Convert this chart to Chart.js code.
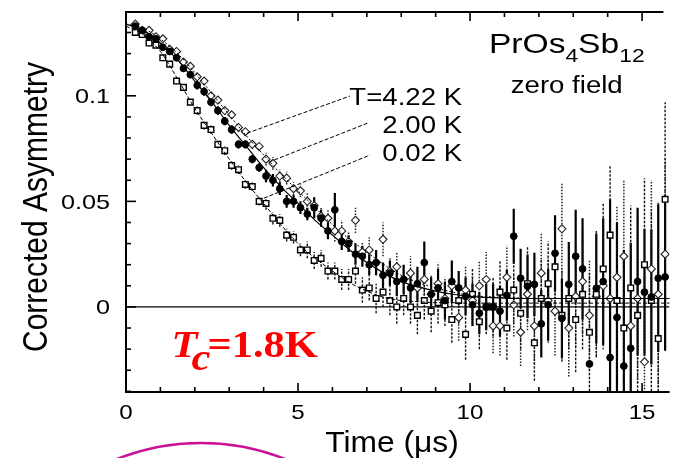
<!DOCTYPE html>
<html>
<head>
<meta charset="utf-8">
<script src="https://cdn.jsdelivr.net/npm/chart.js@4.4.1/dist/chart.umd.min.js"></script>
<style>
  html, body { margin: 0; padding: 0; background: #fff; }
</style>
</head>
<body>
<canvas id="chart" width="675" height="458"></canvas>
<script>
// time bins (µs), shared by the three temperatures
const times = [
  0.27, 0.47, 0.67, 0.87, 1.07, 1.27, 1.47, 1.67, 1.87, 2.07,
  2.27, 2.47, 2.67, 2.87, 3.07, 3.27, 3.47, 3.67, 3.87, 4.07,
  4.27, 4.47, 4.67, 4.87, 5.07, 5.27, 5.47, 5.67, 5.87, 6.07,
  6.27, 6.47, 6.67, 6.87, 7.07, 7.27, 7.47, 7.67, 7.87, 8.07,
  8.27, 8.47, 8.67, 8.87, 9.07, 9.27, 9.47, 9.67, 9.87, 10.07,
  10.27, 10.47, 10.67, 10.87, 11.07, 11.27, 11.47, 11.67, 11.87, 12.07,
  12.27, 12.47, 12.67, 12.87, 13.07, 13.27, 13.47, 13.67, 13.87, 14.07,
  14.27, 14.47, 14.67, 14.87, 15.07, 15.27, 15.47, 15.67,
]

// T = 4.22 K (open symbols, dotted bars)
const asym422 = [
  0.134, 0.131, 0.131, 0.128, 0.127, 0.122, 0.121, 0.116, 0.114, 0.109,
  0.107, 0.100, 0.098, 0.093, 0.091, 0.085, 0.083, 0.077, 0.076, 0.070,
  0.068, 0.062, 0.061, 0.056, 0.055, 0.050, 0.048, 0.043, 0.042, 0.036,
  0.036, 0.031, 0.041, 0.026, 0.027, 0.021, 0.032, 0.017, 0.019, 0.013,
  0.016, 0.009, 0.013, 0.006, 0.011, 0.004, 0.010, -0.005, 0.008, 0.003,
  0.010, 0.013, -0.009, -0.009, 0.014, 0.001, -0.012, 0.006, -0.009, 0.016,
  0.003, -0.002, 0.037, -0.010, 0.005, 0.012, -0.004, 0.005, 0.010, 0.004,
  0.014, 0.024, -0.009, 0.004, -0.026, 0.018, 0.006, 0.025,
]
const err422 = [
  0.0015, 0.0015, 0.0015, 0.0015, 0.0015, 0.0015, 0.0015, 0.0015, 0.0015, 0.002,
  0.002, 0.002, 0.002, 0.002, 0.002, 0.002, 0.002, 0.002, 0.002, 0.003,
  0.003, 0.003, 0.003, 0.003, 0.003, 0.004, 0.004, 0.004, 0.004, 0.005,
  0.005, 0.005, 0.006, 0.005, 0.006, 0.006, 0.008, 0.006, 0.007, 0.007,
  0.008, 0.008, 0.009, 0.009, 0.010, 0.010, 0.010, 0.011, 0.011, 0.012,
  0.012, 0.013, 0.013, 0.014, 0.015, 0.015, 0.016, 0.017, 0.018, 0.019,
  0.020, 0.021, 0.022, 0.023, 0.024, 0.025, 0.026, 0.028, 0.030, 0.032,
  0.034, 0.036, 0.038, 0.040, 0.040, 0.042, 0.044, 0.045,
]

// T = 2.00 K (filled circles, solid bars)
const asym200 = [
  0.133, 0.131, 0.128, 0.127, 0.123, 0.121, 0.118, 0.113, 0.110, 0.105,
  0.102, 0.097, 0.093, 0.088, 0.084, 0.077, 0.077, 0.070, 0.066, 0.062,
  0.060, 0.056, 0.050, 0.050, 0.047, 0.044, 0.047, 0.042, 0.036, 0.046,
  0.031, 0.030, 0.025, 0.024, 0.020, 0.021, 0.015, 0.016, 0.012, 0.013,
  0.009, 0.011, 0.021, 0.006, 0.009, 0.003, 0.012, 0.009, 0.005, 0.001,
  -0.003, 0.000, 0.000, -0.002, 0.0055, 0.0335, 0.0136, 0.0098, 0.0107, -0.008,
  0.001, 0.0254, -0.0054, 0.0107, 0.024, 0.018, -0.027, 0.0088, 0.012, -0.024,
  -0.005, -0.028, -0.0196, 0.012, 0.007, 0.0047, 0.0136, 0.0142,
]
const err200 = [
  0.0015, 0.0015, 0.0015, 0.0015, 0.0015, 0.0015, 0.0015, 0.0015, 0.0015, 0.002,
  0.002, 0.002, 0.002, 0.002, 0.002, 0.002, 0.002, 0.002, 0.002, 0.003,
  0.003, 0.003, 0.003, 0.003, 0.003, 0.003, 0.005, 0.004, 0.004, 0.008,
  0.004, 0.004, 0.005, 0.005, 0.005, 0.006, 0.006, 0.006, 0.007, 0.007,
  0.007, 0.008, 0.010, 0.008, 0.009, 0.009, 0.010, 0.008, 0.009, 0.010,
  0.010, 0.011, 0.011, 0.012, 0.012, 0.013, 0.014, 0.015, 0.015, 0.016,
  0.017, 0.018, 0.019, 0.020, 0.022, 0.024, 0, 0.026, 0.030, 0.075,
  0.045, 0.055, 0.050, 0.035, 0.030, 0.032, 0.035, 0.035,
]

// T = 0.02 K (open squares)
const asym002 = [
  0.130, 0.129, 0.125, 0.124, 0.118, 0.115, 0.107, 0.104, 0.097, 0.093,
  0.086, 0.084, 0.077, 0.074, 0.067, 0.065, 0.058, 0.057, 0.050, 0.049,
  0.042, 0.041, 0.034, 0.033, 0.027, 0.027, 0.022, 0.023, 0.017, 0.017,
  0.013, 0.013, 0.017, 0.008, 0.009, 0.004, 0.007, 0.003, 0.000, 0.004,
  0.000, -0.004, 0.003, -0.002, 0.002, 0.001, -0.006, 0.003, -0.013, 0.006,
  -0.007, 0.000, 0.000, 0.007, -0.010, 0.008, -0.003, 0.011, -0.017, 0.004,
  0.011, 0.019, -0.004, 0.004, -0.006, 0.006, -0.012, 0.006, 0.018, 0.034,
  0.003, -0.010, 0.009, -0.004, 0.020, 0.003, -0.015, 0.051,
]
const err002 = [
  0.0015, 0.0015, 0.0015, 0.0015, 0.0015, 0.0015, 0.0015, 0.0015, 0.0015, 0.002,
  0.002, 0.002, 0.002, 0.002, 0.002, 0.002, 0.002, 0.002, 0.002, 0.003,
  0.003, 0.003, 0.003, 0.003, 0.003, 0.004, 0.004, 0.004, 0.004, 0.004,
  0.005, 0.005, 0.006, 0.006, 0.006, 0.007, 0.007, 0.007, 0.008, 0.008,
  0.008, 0.009, 0.009, 0.010, 0.010, 0.010, 0.011, 0.011, 0.012, 0.012,
  0.013, 0.013, 0.014, 0.015, 0.015, 0.016, 0.017, 0.018, 0.018, 0.019,
  0.020, 0.021, 0.022, 0.024, 0.025, 0.026, 0.028, 0.030, 0.031, 0.033,
  0.035, 0.037, 0.039, 0.040, 0.041, 0.043, 0.044, 0.046,
]

// fitted curves
const fitTimes = [0, 0.5, 1, 1.5, 2, 2.5, 3, 3.5, 4, 4.5, 5, 5.5, 6, 6.5, 7, 7.5, 8, 8.5, 9, 9.5, 10, 11, 12, 13, 14, 15, 15.8]
const fit422 = [0.134, 0.132, 0.127, 0.120, 0.111, 0.101, 0.091, 0.081, 0.072, 0.063, 0.055, 0.047, 0.039, 0.032, 0.026, 0.020, 0.015, 0.0115, 0.009, 0.007, 0.0055, 0.0045, 0.004, 0.004, 0.004, 0.004, 0.004]
const fit200 = [0.134, 0.131, 0.125, 0.117, 0.107, 0.097, 0.086, 0.076, 0.066, 0.057, 0.049, 0.041, 0.034, 0.027, 0.021, 0.016, 0.012, 0.0095, 0.0075, 0.006, 0.005, 0.0042, 0.004, 0.004, 0.004, 0.004, 0.004]
const fit002 = [0.133, 0.129, 0.121, 0.108, 0.094, 0.082, 0.070, 0.059, 0.049, 0.039, 0.030, 0.023, 0.017, 0.0115, 0.0075, 0.0045, 0.003, 0.0025, 0.002, 0.002, 0.0018, 0.0018, 0.0018, 0.0018, 0.0018, 0.0018, 0.0018]

const xTicks = [0, 5, 10, 15]
const yTicks = [0, 0.05, 0.1]
const yTickLabels = ['0', '0.05', '0.1']
const tempLabels = ['T=4.22 K', '2.00 K', '0.02 K']

// leader lines from the curves to the labels, in data units
const leaders = [
  [[3.52, 0.0823], [6.51, 0.0999]],
  [[4.15, 0.0686], [7.03, 0.0871]],
  [[4.01, 0.0515], [7.09, 0.0719]],
]

const SANS = '"Liberation Sans", Arial, Helvetica, sans-serif'
const SERIF = '"Liberation Serif", "Times New Roman", serif'

const toPts = (xs, ys) => xs.map((x, i) => ({ x, y: ys[i] }))

function stretchText(ctx, text, x, y, sx, align) {
  ctx.save()
  ctx.translate(x, y)
  ctx.scale(sx, 1)
  ctx.textAlign = align || 'left'
  ctx.textBaseline = 'alphabetic'
  ctx.fillText(text, 0, 0)
  ctx.restore()
}

// zero line + error bars under the markers
const errorBars = {
  id: 'errorBars',
  beforeDatasetsDraw(chart) {
    const { ctx, chartArea: a, scales: { x, y } } = chart
    ctx.save()
    ctx.beginPath()
    ctx.rect(a.left, a.top, a.right - a.left, a.bottom - a.top)
    ctx.clip()
    const y0 = y.getPixelForValue(0)
    ctx.strokeStyle = '#000'
    ctx.lineWidth = 1.3
    ctx.beginPath(); ctx.moveTo(a.left, y0); ctx.lineTo(a.right, y0); ctx.stroke()
    chart.data.datasets.forEach(ds => {
      if (!ds.errors) return
      ctx.strokeStyle = ds.barColor
      ctx.lineWidth = ds.barWidth
      ctx.setLineDash(ds.barDash)
      ds.data.forEach((p, i) => {
        const e = ds.errors[i]
        if (!e) return
        const px = x.getPixelForValue(p.x)
        ctx.beginPath()
        ctx.moveTo(px, y.getPixelForValue(p.y - e))
        ctx.lineTo(px, y.getPixelForValue(p.y + e))
        ctx.stroke()
      })
    })
    ctx.restore()
  },
}

// frame, inward ticks, labels and the notes
const frame = {
  id: 'frame',
  afterDraw(chart) {
    const { ctx, chartArea: a, scales: { x, y } } = chart
    ctx.save()
    ctx.strokeStyle = '#000'
    ctx.fillStyle = '#000'

    ctx.lineWidth = 2
    ctx.beginPath()
    ctx.moveTo(x.getPixelForValue(15.62), a.top)
    ctx.lineTo(a.left, a.top)
    ctx.lineTo(a.left, a.bottom)
    ctx.lineTo(a.right, a.bottom)
    ctx.stroke()

    ctx.lineWidth = 1.6
    for (let v = 1; v <= 15; v++) {
      const len = v % 5 === 0 ? 9 : 5
      const px = x.getPixelForValue(v)
      ctx.beginPath()
      ctx.moveTo(px, a.bottom); ctx.lineTo(px, a.bottom - len)
      ctx.moveTo(px, a.top); ctx.lineTo(px, a.top + len)
      ctx.stroke()
    }
    for (let k = -4; k <= 13; k++) {
      const len = k % 5 === 0 ? 10 : 5
      const py = y.getPixelForValue(k / 100)
      ctx.beginPath()
      ctx.moveTo(a.left, py); ctx.lineTo(a.left + len, py)
      ctx.stroke()
    }

    ctx.font = '21px ' + SANS
    yTicks.forEach((v, i) => {
      stretchText(ctx, yTickLabels[i], a.left - 16, y.getPixelForValue(v) + 7.5, 1.2, 'right')
    })
    xTicks.forEach(v => {
      stretchText(ctx, String(v), x.getPixelForValue(v), a.bottom + 27, 1.15, 'center')
    })

    ctx.font = '30px ' + SANS
    stretchText(ctx, 'Time (μs)', 392, 452, 1.06, 'center')
    ctx.save()
    ctx.translate(47, 207)
    ctx.rotate(-Math.PI / 2)
    ctx.scale(1, 1.15)
    ctx.textAlign = 'center'
    ctx.fillText('Corrected Asymmetry', 0, 0)
    ctx.restore()

    // temperature labels
    ctx.font = '24px ' + SANS
    const labelY = [0.0955, 0.0823, 0.069]
    tempLabels.forEach((t, i) => {
      stretchText(ctx, t, x.getPixelForValue(9.77), y.getPixelForValue(labelY[i]), 1.15, 'right')
    })

    // compound name with subscripts
    const parts = [['PrOs', 28, 0], ['4', 19, 9], ['Sb', 28, 0], ['12', 19, 9]]
    const sx = 1.2
    let total = 0
    parts.forEach(([s, f]) => { ctx.font = f + 'px ' + SANS; total += ctx.measureText(s).width * sx })
    let cx = x.getPixelForValue(12.81) - total / 2
    const by = y.getPixelForValue(0.1203)
    parts.forEach(([s, f, dy]) => {
      ctx.font = f + 'px ' + SANS
      stretchText(ctx, s, cx, by + dy, sx, 'left')
      cx += ctx.measureText(s).width * sx
    })
    ctx.font = '23px ' + SANS
    stretchText(ctx, 'zero field', x.getPixelForValue(12.81), y.getPixelForValue(0.1013), 1.2, 'center')

    // red Tc note
    ctx.fillStyle = '#ff0000'
    const tx = x.getPixelForValue(1.32)
    const ty = y.getPixelForValue(-0.0237)
    ctx.font = 'italic bold 38px ' + SERIF
    stretchText(ctx, 'T', tx, ty, 1.12, 'left')
    stretchText(ctx, 'c', tx + 20, ty + 13, 1.12, 'left')
    ctx.font = 'bold 38px ' + SERIF
    stretchText(ctx, '=1.8K', tx + 36, ty, 1.12, 'left')

    // magenta arc under the axis
    ctx.strokeStyle = '#cc1199'
    ctx.lineWidth = 2.5
    ctx.beginPath()
    ctx.arc(201, 672, 229, -1.97, -1.17)
    ctx.stroke()
    ctx.restore()
  },
}

const blackLine = (data, dash, width, order) => ({
  type: 'line', data, borderColor: '#000', borderWidth: width, borderDash: dash,
  pointRadius: 0, fill: false, cubicInterpolationMode: 'monotone', order,
})

new Chart(document.getElementById('chart'), {
  type: 'scatter',
  data: {
    datasets: [
      blackLine(toPts(fitTimes, fit422), [2, 2], 1, 1),
      blackLine(toPts(fitTimes, fit200), [], 1.2, 1),
      blackLine(toPts(fitTimes, fit002), [4, 2], 1, 1),
      ...leaders.map(l => blackLine(l.map(([px, py]) => ({ x: px, y: py })), [4, 2], 1, 0)),
      {
        label: '4.22 K', data: toPts(times, asym422), errors: err422,
        barColor: '#222', barWidth: 1.5, barDash: [1.5, 1.5],
        pointStyle: 'rectRot', pointRadius: 4, pointBackgroundColor: '#fff',
        pointBorderColor: '#222', pointBorderWidth: 1.1, order: 4,
      },
      {
        label: '2.00 K', data: toPts(times, asym200), errors: err200,
        barColor: '#000', barWidth: 2.2, barDash: [],
        pointStyle: 'circle', pointRadius: 3.4, pointBackgroundColor: '#000',
        pointBorderColor: '#000', pointBorderWidth: 1, order: 2,
      },
      {
        label: '0.02 K', data: toPts(times, asym002), errors: err002,
        barColor: '#111', barWidth: 1.4, barDash: [2.5, 1.5],
        pointStyle: 'rect', pointRadius: 4, pointBackgroundColor: '#fff',
        pointBorderColor: '#000', pointBorderWidth: 1.4, order: 3,
      },
    ],
  },
  options: {
    responsive: false,
    animation: false,
    events: [],
    layout: { padding: { top: 12, left: 0, right: 0, bottom: 0 } },
    plugins: { legend: { display: false }, tooltip: { enabled: false } },
    scales: {
      x: {
        type: 'linear', min: 0, max: 15.8,
        grid: { display: false }, border: { display: false }, ticks: { display: false },
        afterFit: s => { s.height = 66 },
      },
      y: {
        type: 'linear', min: -0.0403, max: 0.1397,
        grid: { display: false }, border: { display: false }, ticks: { display: false },
        afterFit: s => { s.width = 126 },
      },
    },
  },
  plugins: [errorBars, frame],
})
</script>
</body>
</html>
